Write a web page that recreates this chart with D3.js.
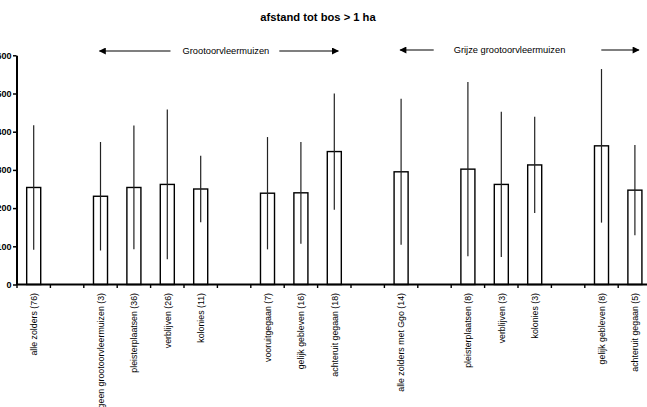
<!DOCTYPE html>
<html>
<head>
<meta charset="utf-8">
<script src="https://cdn.jsdelivr.net/npm/d3@7"></script>
<style>
  html, body { margin: 0; padding: 0; background: #fff; }
  svg { display: block; font-family: "Liberation Sans", Arial, sans-serif; }
</style>
</head>
<body>
<svg id="chart" width="647" height="407"></svg>
<script>
// Category slots along the x axis ("" = empty spacer slot)
const categories = [
  "alle zolders (76)", "",
  "geen grootoorvleermuizen (3)", "pleisterplaatsen (36)", "verblijven (26)", "kolonies (11)", "",
  "vooruitgegaan (7)", "gelijk gebleven (16)", "achteruit gegaan (18)", "",
  "alle zolders met Ggo (14)", "",
  "pleisterplaatsen (8)", "verblijven (3)", "kolonies (3)", "",
  "gelijk gebleven (8)", "achteruit gegaan (5)"
];
// Mean distance to forest > 1 ha (m)
const means = [254, null, 231, 254, 262, 250, null, 239, 240, 348, null, 295, null, 302, 262, 313, null, 363, 247];
// Standard deviation drawn as error line
const sds   = [163, null, 142, 162, 196,  87, null, 147, 133, 152, null, 191, null, 228, 190, 126, null, 201, 118];
const yTicks = [0, 100, 200, 300, 400, 500, 600];
const title = "afstand tot bos > 1 ha";
// Species group brackets: label, first slot, last slot
const groupLabels = ["Grootoorvleermuizen", "Grijze grootoorvleermuizen"];
const groupFrom = [2, 11];
const groupTo = [9, 18];

const svg = d3.select("#chart");
const x0 = 17, y0 = 284.5;

const x = d3.scaleBand()
  .domain(categories.map((_, i) => i))
  .range([x0, x0 + 19 * 33.4])
  .paddingInner(0.58)
  .paddingOuter(0.29);
const step = x.step();
const cx = i => x(i) + x.bandwidth() / 2;

const y = d3.scaleLinear().domain([0, 600]).range([y0, 55.3]);

// Title
svg.append("text")
  .attr("x", 318).attr("y", 21)
  .attr("text-anchor", "middle")
  .attr("font-weight", "bold")
  .attr("font-size", 11.2)
  .text(title);

// Y axis
const yAxis = svg.append("g").attr("transform", `translate(${x0 - 0.5},0)`)
  .call(d3.axisLeft(y).tickValues(yTicks).tickSize(3.5).tickPadding(1.5).tickSizeOuter(0));
yAxis.select(".domain").attr("stroke", "#000").attr("stroke-width", 2);
yAxis.selectAll(".tick line").attr("stroke", "#000").attr("stroke-width", 1.5);
yAxis.selectAll(".tick text")
  .attr("font-family", "Liberation Sans, Arial, sans-serif")
  .attr("font-size", 9).attr("font-weight", "bold").attr("fill", "#000");

// Bars
const idx = d3.range(categories.length).filter(i => means[i] != null);
svg.append("g").selectAll("rect").data(idx).join("rect")
  .attr("x", i => x(i))
  .attr("y", i => y(means[i]))
  .attr("width", x.bandwidth())
  .attr("height", i => y0 - y(means[i]))
  .attr("fill", "#fff")
  .attr("stroke", "#000")
  .attr("stroke-width", 1.4);

// Error lines (mean ± sd)
svg.append("g").selectAll("line").data(idx).join("line")
  .attr("x1", i => cx(i)).attr("x2", i => cx(i))
  .attr("y1", i => y(means[i] + sds[i]))
  .attr("y2", i => y(Math.max(0, means[i] - sds[i])))
  .attr("stroke", "#222")
  .attr("stroke-width", 1.2);

// X axis line and ticks at slot boundaries
svg.append("line")
  .attr("x1", x0 - 1).attr("x2", 647).attr("y1", y0).attr("y2", y0)
  .attr("stroke", "#000").attr("stroke-width", 2);
svg.append("g").selectAll("line").data(d3.range(0, categories.length + 1)).join("line")
  .attr("x1", k => x0 + k * step).attr("x2", k => x0 + k * step)
  .attr("y1", y0).attr("y2", y0 + 3.5)
  .attr("stroke", "#000").attr("stroke-width", 1.4);

// Rotated category labels
svg.append("g").selectAll("text").data(idx).join("text")
  .attr("transform", i => `translate(${cx(i) + 3.2},${y0 + 8.5}) rotate(-90)`)
  .attr("text-anchor", "end")
  .attr("font-size", 8.8)
  .attr("fill", "#000")
  .text(i => categories[i]);

// Group brackets with arrows
const defs = svg.append("defs");
defs.append("marker").attr("id", "arrow")
  .attr("viewBox", "0 0 10 10").attr("refX", 9).attr("refY", 5)
  .attr("markerWidth", 10).attr("markerHeight", 7).attr("markerUnits", "userSpaceOnUse")
  .attr("orient", "auto")
  .append("path").attr("d", "M0,0 L10,5 L0,10 Z").attr("fill", "#000");

// label offset from bracket middle, and gaps between label and the two arrow lines
const labelShift = [7, -10];
const gapLeft = [12, 20];
const gapRight = [10, 36];
groupLabels.forEach((label, g) => {
  const left = cx(groupFrom[g]) - 1;
  const right = cx(groupTo[g]) + 4;
  const gy = 51 - g * 1;
  const mid = (left + right) / 2 + labelShift[g];
  const t = svg.append("text")
    .attr("x", mid).attr("y", gy + 3.3)
    .attr("text-anchor", "middle")
    .attr("font-size", 9.3)
    .text(label);
  const w = t.node().getComputedTextLength();
  svg.append("line")
    .attr("x1", mid - w / 2 - gapLeft[g]).attr("x2", left)
    .attr("y1", gy).attr("y2", gy)
    .attr("stroke", "#000").attr("stroke-width", 1.2)
    .attr("marker-end", "url(#arrow)");
  svg.append("line")
    .attr("x1", mid + w / 2 + gapRight[g]).attr("x2", right)
    .attr("y1", gy).attr("y2", gy)
    .attr("stroke", "#000").attr("stroke-width", 1.2)
    .attr("marker-end", "url(#arrow)");
});
</script>
</body>
</html>
